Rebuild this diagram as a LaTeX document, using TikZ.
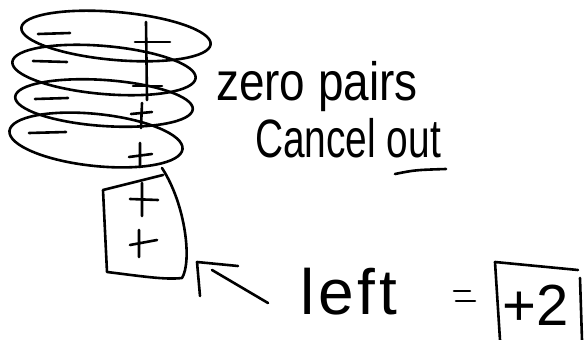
\documentclass[tikz,border=0pt]{standalone}
\usepackage{fontspec}
\setmainfont{Liberation Sans}
\newfontfamily\narrowA[FakeStretch=0.85]{Liberation Sans}
\newfontfamily\narrowB[FakeStretch=0.72]{Liberation Sans}
\newfontfamily\spacedC[LetterSpace=6]{Liberation Sans}
\usetikzlibrary{shapes.geometric}
\begin{document}
\begin{tikzpicture}[x=1pt,y=-1pt,
  pen/.style={line width=2.6pt,line cap=round,line join=round,black},
  loop/.style={pen,draw,ellipse,inner sep=0pt},
  hand/.style={inner sep=0pt,anchor=base west}]
\useasboundingbox (0,0) rectangle (587,340);
% zero-pair loops
\node[loop,minimum width=190pt,minimum height=48pt,rotate=-5] (l1) at (116,36) {};
\node[loop,minimum width=184pt,minimum height=48pt,rotate=-5] (l2) at (104,70) {};
\node[loop,minimum width=178pt,minimum height=46pt,rotate=-4] (l3) at (104,103) {};
\node[loop,minimum width=174pt,minimum height=52pt,rotate=-6] (l4) at (96,140) {};
% minus signs
\draw[pen] (38,34) -- (70,33);
\draw[pen] (33,61) -- (67,62);
\draw[pen] (35,99) -- (68,98);
\draw[pen] (29,133) -- (66,132);
% plus signs
\draw[pen] (146,22) -- (147,100);
\draw[pen] (135,42) -- (170,42);
\draw[pen] (133,86) -- (162,86);
\draw[pen] (142,103) -- (141,128) (131,114) -- (152,112);
\draw[pen] (140,143) -- (140,167) (129,157) -- (152,154);
% left-over box
\draw[pen] (163,175) -- (103,190) -- (107,272) .. controls (140,276) and (165,280) .. (182,278)
  .. controls (192,262) and (186,205) .. (162,168);
\draw[pen] (142,183) -- (142,216) (130,199) -- (158,200);
\draw[pen] (139,230) -- (139,257) (130,245) -- (157,240);
% arrow
\draw[pen] (200,296) -- (197,262) -- (238,266);
\draw[pen] (212,270) -- (268,303);
% texts
\node[hand,font=\narrowA\fontsize{54}{58}\selectfont] (zp) at (216,100) {zero pairs};
\node[hand,font=\narrowB\fontsize{54}{58}\selectfont] (co) at (255,157) {Cancel out};
\draw[pen] (395,174) .. controls (415,170) .. (446,169);
\node[hand,font=\spacedC\fontsize{64}{68}\selectfont] (lf) at (300,314) {left};
\draw[pen] (454,291) -- (470,291) (456,301) -- (475,301);
% answer box
\draw[pen] (500,340) -- (495,262) -- (578,270);
\draw[pen] (580,278) -- (582,340);
\node[hand,font=\fontsize{58}{62}\selectfont] (ans) at (502,325) {+2};
\end{tikzpicture}
\end{document}
